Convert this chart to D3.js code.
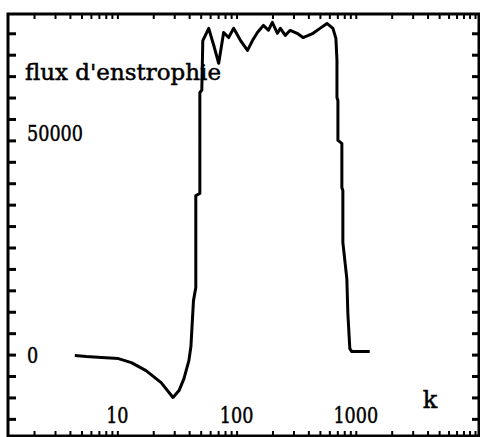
<!DOCTYPE html>
<html>
<head>
<meta charset="utf-8">
<script src="https://cdn.jsdelivr.net/npm/d3@7"></script>
<style>
  body { margin: 0; background: #fff; }
  svg { display: block; }
  text { font-family: "DejaVu Serif", serif; fill: #000; stroke: #000; stroke-width: 0.5px; }
</style>
</head>
<body>
<svg id="chart" width="480" height="437"></svg>
<script>
// wavenumber k (log axis) and enstrophy flux
const kValues = [4.4, 5.5, 7.4, 10.2, 13.1, 17.4, 23.3, 29.3, 32.9, 36.2, 39.8, 41.4, 43.5, 45.5, 45.5,
    49.2, 49.2, 51.1, 52.1, 58.4, 64.3, 70.8, 77.9, 85.8, 94.4, 108, 123.5, 136, 149.6, 168, 185,
    199.5, 220, 233, 256, 282, 322, 361, 400, 438, 501, 573, 643, 681, 695, 695, 708, 708, 764,
    764, 779, 779, 841, 858, 891, 926, 1309];
const fluxValues = [-230, -470, -700, -930, -1870, -3740, -6540, -10000, -8400, -5600, -1400, 1870,
    12600, 15650, 37100, 37600, 61200, 61700, 73300, 76150, 72200, 68000, 75200, 74000, 76150,
    73300, 71000, 73300, 75200, 76850, 75700, 77550, 75000, 76150, 74500, 75700, 75000, 74000,
    74500, 75000, 76150, 77300, 76150, 73800, 68700, 60000, 59300, 50000, 49300, 39000, 38300,
    26200, 17750, 9600, 1400, 700, 700];

const yTickValues = d3.range(-15000, 75001, 5000);
const yLabelValues = [0, 50000];
const xLabelValues = [10, 100, 1000];
const yTitle = "flux d'enstrophie";
const xTitle = 'k';

let svg = d3.select('#chart');
let frame = {left: 8, right: 479, top: 14, bottom: 436};

let xScale = d3.scaleLog().domain([1.21, 10800]).range([frame.left, frame.right]);
let yScale = d3.scaleLinear().domain([-19000, 79500]).range([frame.bottom, frame.top]);

// scanned serif is narrower than DejaVu Serif: squeeze to about 11px per digit
function squeeze(d){ return String(d).length * 11.2; }

// ****** frame and ticks ****** //
let minorX = xScale.ticks().filter(function(d){ return d >= 1.21 && d <= 10800; });

svg.append('g')
    .attr('transform', 'translate(0,' + frame.bottom + ')')
    .call(d3.axisTop(xScale).tickValues(minorX).tickSize(5).tickFormat(''))
    .call(function(g){ g.select('.domain').remove(); })
    .selectAll('line').attr('stroke-width', 2);

svg.append('g')
    .attr('transform', 'translate(0,' + frame.top + ')')
    .call(d3.axisBottom(xScale).tickValues(minorX).tickSize(5).tickFormat(''))
    .call(function(g){ g.select('.domain').remove(); })
    .selectAll('line').attr('stroke-width', 2);

svg.append('g')
    .attr('transform', 'translate(' + frame.left + ',0)')
    .call(d3.axisRight(yScale).tickValues(yTickValues).tickSize(8).tickFormat(''))
    .call(function(g){ g.select('.domain').remove(); })
    .selectAll('line').attr('stroke-width', 3);

svg.append('g')
    .attr('transform', 'translate(' + frame.right + ',0)')
    .call(d3.axisLeft(yScale).tickValues(yTickValues).tickSize(7).tickFormat(''))
    .call(function(g){ g.select('.domain').remove(); })
    .selectAll('line').attr('stroke-width', 3);

svg.append('rect')
    .attr('x', frame.left)
    .attr('y', frame.top)
    .attr('width', frame.right - frame.left)
    .attr('height', frame.bottom - frame.top)
    .attr('fill', 'none')
    .attr('stroke', '#000')
    .attr('stroke-width', 3);

// ****** labels ****** //
svg.selectAll('text.ylabel')
    .data(yLabelValues)
    .enter()
    .append('text')
    .classed('ylabel', true)
    .attr('x', 27)
    .attr('y', function(d){ return yScale(d) - (d === 0 ? 0 : 8); })
    .attr('dy', '0.36em')
    .attr('textLength', squeeze)
    .attr('lengthAdjust', 'spacingAndGlyphs')
    .style('font-size', '23px')
    .text(function(d){ return d; });

svg.selectAll('text.xlabel')
    .data(xLabelValues)
    .enter()
    .append('text')
    .classed('xlabel', true)
    .attr('x', function(d){ return xScale(d) - squeeze(d) / 2; })
    .attr('y', 423)
    .attr('textLength', squeeze)
    .attr('lengthAdjust', 'spacingAndGlyphs')
    .style('font-size', '23px')
    .text(function(d){ return d; });

svg.append('text')
    .attr('x', 25)
    .attr('y', 80)
    .attr('textLength', 196)
    .attr('lengthAdjust', 'spacingAndGlyphs')
    .style('font-size', '23px')
    .text(yTitle);

svg.append('text')
    .attr('x', 430)
    .attr('y', 408)
    .attr('text-anchor', 'middle')
    .style('font-size', '24px')
    .text(xTitle);

// ****** curve ****** //
let points = kValues.map(function(k, i){ return [k, fluxValues[i]]; });
let line = d3.line()
    .x(function(d){ return xScale(d[0]); })
    .y(function(d){ return yScale(d[1]); });

svg.append('path')
    .datum(points)
    .attr('d', line)
    .attr('fill', 'none')
    .attr('stroke', '#000')
    .attr('stroke-width', 3)
    .attr('stroke-linejoin', 'round');
</script>
</body>
</html>
